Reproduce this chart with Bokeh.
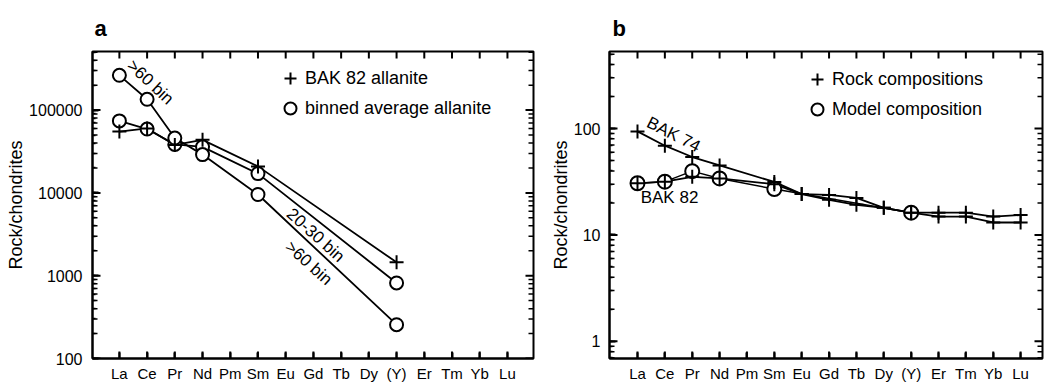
import math
from bokeh.plotting import figure
from bokeh.models import (Range1d, FixedTicker, LogTicker, PrintfTickFormatter,
                          Label, Legend, LegendItem)
from bokeh.layouts import row
from bokeh.embed import file_html
from bokeh.resources import INLINE

FONT = "Liberation Sans"

elements = ["La", "Ce", "Pr", "Nd", "Pm", "Sm", "Eu", "Gd", "Tb", "Dy",
            "(Y)", "Er", "Tm", "Yb", "Lu"]

# Panel a: allanite
a_elements = ["La", "Ce", "Pr", "Nd", "Sm", "(Y)"]
bak82_allanite = [55000, 60000, 38000, 43700, 20900, 1450]
bin_20_30 = [74000, 59000, 38500, 36000, 17100, 817]
bin_gt60 = [263000, 135000, 46000, 29000, 9560, 256]

# Panel b: rocks
b_elements = ["La", "Ce", "Pr", "Nd", "Sm", "Eu", "Gd", "Tb", "Dy",
              "(Y)", "Er", "Tm", "Yb", "Lu"]
bak74_rock = [94, 69, 54, 45, 31.5, 24.2, 21.4, 19.2, 18.0, 16.2, 14.9, 14.9, 13.1, 13.1]
bak82_rock = [30.6, 31.7, 35.2, 34, 30, 24.2, 23.8, 22.3, 18.0, 16.2, 16.2, 16.2, 14.9, 15.4]
model_elements = ["La", "Ce", "Pr", "Nd", "Sm", "(Y)"]
model_comp = [30.6, 31.7, 39.8, 34, 27, 16.2]


def xpos(names):
    return [elements.index(n) + 1 for n in names]


def log_ticks(lo, hi):
    majors, minors = [], []
    for e in range(math.floor(math.log10(lo)), math.ceil(math.log10(hi)) + 1):
        for k in range(1, 10):
            v = k * 10 ** e
            if lo <= v <= hi:
                (majors if k == 1 else minors).append(v)
    return majors, minors


def make_panel(title, width, left, right, xr, yr, label_standoff, title_offset,
               frame_w, frame_h):
    p = figure(width=width, height=384, x_range=Range1d(*xr), y_range=Range1d(*yr),
               y_axis_type="log", output_backend="svg", toolbar_location=None,
               min_border_left=left, min_border_right=right, min_border_top=51,
               min_border_bottom=24, title=title)
    p.title.text_font = FONT
    p.title.text_font_size = "22px"
    p.title.text_font_style = "bold"
    p.title.text_color = "black"
    p.title.align = "left"
    p.title.offset = title_offset
    p.title.standoff = 22
    p.outline_line_color = "black"
    p.outline_line_width = 2
    p.xgrid.visible = False
    p.ygrid.visible = False

    xa = p.xaxis[0]
    xa.ticker = FixedTicker(ticks=list(range(1, 16)), minor_ticks=[])
    xa.major_label_overrides = {i + 1: n for i, n in enumerate(elements)}
    ya = p.yaxis[0]
    ya.ticker = LogTicker(num_minor_ticks=10)
    ya.formatter = PrintfTickFormatter(format="%d")
    for ax in (xa, ya):
        ax.major_tick_in = 6
        ax.major_tick_out = 0
        ax.minor_tick_in = 3
        ax.minor_tick_out = 0
        ax.major_tick_line_width = 2
        ax.minor_tick_line_width = 1.5
        ax.axis_line_width = 2
        ax.major_label_text_font = FONT
        ax.major_label_text_font_size = "16px"
        ax.major_label_text_color = "black"
        ax.axis_label_text_font = FONT
        ax.axis_label_text_font_style = "normal"
        ax.axis_label_text_font_size = "18px"
        ax.axis_label_text_color = "black"
    xa.major_label_text_font_size = "15px"
    xa.major_label_standoff = 6
    ya.major_label_standoff = label_standoff
    ya.axis_label = "Rock/chondrites"
    ya.axis_label_standoff = 0

    # inward tick marks drawn as short segments just inside the frame
    px_x = (xr[1] - xr[0]) / frame_w
    dec_px = (math.log10(yr[1]) - math.log10(yr[0])) / frame_h
    xt = [elements.index(n) + 1 for n in elements]
    f = 10 ** (7 * dec_px)
    p.segment(xt, [yr[0]] * len(xt), xt, [yr[0] * f] * len(xt),
              line_color="black", line_width=2)
    p.segment(xt, [yr[1]] * len(xt), xt, [yr[1] / f] * len(xt),
              line_color="black", line_width=2)
    majors, minors = log_ticks(*yr)
    for vals, ln, lw in ((majors, 8, 2), (minors, 5, 1.5)):
        p.segment([xr[0]] * len(vals), vals, [xr[0] + ln * px_x] * len(vals), vals,
                  line_color="black", line_width=lw)
        p.segment([xr[1]] * len(vals), vals, [xr[1] - ln * px_x] * len(vals), vals,
                  line_color="black", line_width=lw)
    return p


def style_legend(p, items, loc, spacing, standoff):
    leg = Legend(items=items, location=loc, padding=0, margin=0, spacing=spacing,
                 glyph_width=30, glyph_height=30, label_height=20,
                 label_standoff=standoff, border_line_alpha=0,
                 background_fill_alpha=0, label_text_font=FONT,
                 label_text_font_size="18px", label_text_color="black")
    p.add_layout(leg)


# ---------- Panel a ----------
pa = make_panel("a", 540, 92, 7, (0.03, 15.94), (100, 510000), 10, 2, 441, 309)
xa_ = xpos(a_elements)
for ys in (bak82_allanite, bin_20_30, bin_gt60):
    pa.line(xa_, ys, line_color="black", line_width=1.8)
c1 = pa.scatter(xa_, bin_20_30, marker="circle", size=13, fill_color="white",
                line_color="black", line_width=2)
pa.scatter(xa_, bin_gt60, marker="circle", size=13, fill_color="white",
           line_color="black", line_width=2)
p1 = pa.scatter(xa_, bak82_allanite, marker="cross", size=14, line_color="black",
                line_width=2)
style_legend(pa, [LegendItem(label="BAK 82 allanite", renderers=[p1]),
                  LegendItem(label="binned average allanite", renderers=[c1])],
             (183, 235), -1, -3)

pa.add_layout(Label(x=2.12, y=217000, text=">60 bin", angle=-43, angle_units="deg",
                    text_align="center", text_baseline="middle", text_font=FONT,
                    text_font_size="17px", text_color="black"))
pa.add_layout(Label(x=8.08, y=3085, text="20-30 bin", angle=-42, angle_units="deg",
                    text_align="center", text_baseline="middle", text_font=FONT,
                    text_font_size="17px", text_color="black"))
pa.add_layout(Label(x=7.83, y=1419, text=">60 bin", angle=-42, angle_units="deg",
                    text_align="center", text_baseline="middle", text_font=FONT,
                    text_font_size="17px", text_color="black"))

# ---------- Panel b ----------
pb = make_panel("b", 506, 69, 4, (-0.023, 15.8), (0.69, 530), 9, 3, 433, 309)
xb_ = xpos(b_elements)
xm_ = xpos(model_elements)
pb.line(xb_, bak74_rock, line_color="black", line_width=1.8)
pb.line(xb_, bak82_rock, line_color="black", line_width=1.8)
pb.line(xm_, model_comp, line_color="black", line_width=1.5)
c2 = pb.scatter(xm_, model_comp, marker="circle", size=14, fill_color="white",
                line_color="black", line_width=2)
p2 = pb.scatter(xb_, bak74_rock, marker="cross", size=14, line_color="black",
                line_width=2)
pb.scatter(xb_, bak82_rock, marker="cross", size=14, line_color="black", line_width=2)
style_legend(pb, [LegendItem(label="Rock compositions", renderers=[p2]),
                  LegendItem(label="Model composition", renderers=[c2])],
             (193, 234), -6, -4)

pb.add_layout(Label(x=2.32, y=88, text="BAK 74", angle=-27, angle_units="deg",
                    text_align="center", text_baseline="middle", text_font=FONT,
                    text_font_size="17px", text_color="black"))
pb.add_layout(Label(x=2.17, y=22.5, text="BAK 82", text_align="center",
                    text_baseline="middle", text_font=FONT,
                    text_font_size="17px", text_color="black"))

layout = row(pa, pb)
open("out.html", "w").write(file_html(layout, INLINE))
